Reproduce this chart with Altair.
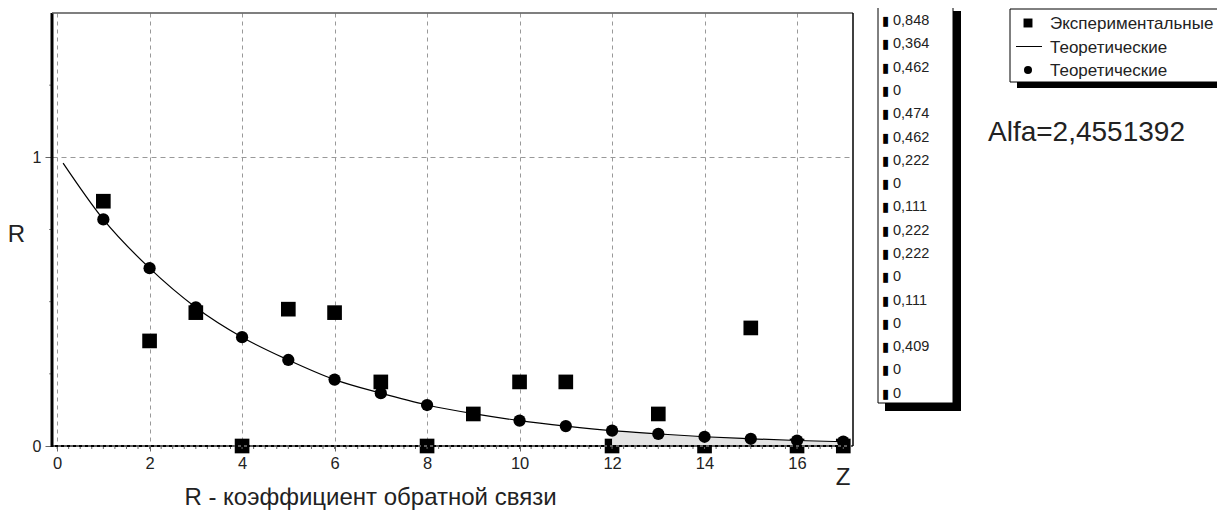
import altair as alt
import pandas as pd

# ---------------- data ----------------
z_exp = list(range(1, 18))
r_exp = [0.848, 0.364, 0.462, 0, 0.474, 0.462, 0.222, 0, 0.111, 0.222,
         0.222, 0, 0.111, 0, 0.409, 0, 0]

z_theo = list(range(1, 18))
r_theo = [0.785, 0.616, 0.480, 0.377, 0.298, 0.230, 0.183, 0.142, 0.112,
          0.088, 0.069, 0.053, 0.042, 0.032, 0.025, 0.019, 0.015]

line_z = [0.13] + z_theo
line_r = [0.98] + r_theo

shade_from = 12

list_labels = [str(v).replace(".", ",") for v in r_exp]
legend_labels = ["Экспериментальные", "Теоретические", "Теоретические"]
alfa_text = "Alfa=2,4551392"
x_title = "R - коэффициент обратной связи"
y_title = "R"
z_label = "Z"
x_tick_values = [0, 2, 4, 6, 8, 10, 12, 14, 16]
y_tick_values = [0, 1]
x_minor = [i / 4 for i in range(0, 69)]
y_minor = [0.25, 0.5, 0.75, 1.25]

# ---------------- layout ----------------
W, H = 801, 433
FONT = "Liberation Sans"

exp_df = pd.DataFrame({"z": z_exp, "r": r_exp})
theo_df = pd.DataFrame({"z": z_theo, "r": r_theo})
line_df = pd.DataFrame({"z": line_z, "r": line_r})
shade_df = theo_df[theo_df.z >= shade_from]
one = pd.DataFrame({"a": [0]})

xs = alt.Scale(domain=[-0.11, 17.21], nice=False, zero=False)
ys = alt.Scale(domain=[0, 1.5], nice=False)

X = alt.X("z:Q", scale=xs, axis=alt.Axis(
    values=x_tick_values, title=x_title, titleFontSize=24, titleFont=FONT,
    titleFontWeight="normal", titleColor="#222", titleX=318, titleY=51,
    titleBaseline="middle", labelFontSize=16.5, labelFont=FONT, labelColor="#222",
    tickSize=5, tickColor="#666", labelPadding=4, domain=False,
    grid=True, gridDash=[4, 4], gridColor="#999", gridWidth=1))
Y = alt.Y("r:Q", scale=ys, axis=alt.Axis(
    values=y_tick_values, title=y_title, titleFontSize=24, titleFont=FONT,
    titleFontWeight="normal", titleColor="#222", titleAngle=0, titleX=-36,
    titleY=221, titleAlign="center", titleBaseline="middle",
    labelFontSize=16, labelFont=FONT, labelColor="#222", tickSize=7,
    tickColor="#666", labelPadding=4, domain=False,
    grid=True, gridDash=[5, 4], gridColor="#999", gridWidth=1))

shade = alt.Chart(shade_df).mark_area(color="#e4e4e4").encode(x=X, y=Y)

squares = alt.Chart(exp_df).mark_square(size=215, color="black", opacity=1).encode(x=X, y=Y)

line = alt.Chart(line_df).mark_line(color="black", strokeWidth=1.2,
                                    interpolate="monotone").encode(x=X, y=Y)

circles = alt.Chart(theo_df).mark_circle(size=150, color="black", opacity=1).encode(x=X, y=Y)

# minor ticks
xminor = alt.Chart(pd.DataFrame({"z": x_minor})).mark_rule(color="#666").encode(
    x=X, y=alt.value(H), y2=alt.value(H + 3))
yminor = alt.Chart(pd.DataFrame({"r": y_minor})).mark_rule(color="#888").encode(
    y=Y, x=alt.value(-3), x2=alt.value(0))

# frame
frame_left = alt.Chart(one).mark_rule(color="black", strokeWidth=3).encode(
    x=alt.value(0), y=alt.value(0), y2=alt.value(H + 1))
frame_bottom = alt.Chart(one).mark_rule(color="black", strokeWidth=2).encode(
    x=alt.value(0), x2=alt.value(W), y=alt.value(H))
frame_bottom_dash = alt.Chart(one).mark_rule(color="#bbb", strokeWidth=1, strokeDash=[3, 3]).encode(
    x=alt.value(0), x2=alt.value(W), y=alt.value(H))
frame_top = alt.Chart(one).mark_rule(color="#555", strokeWidth=1.5).encode(
    x=alt.value(0), x2=alt.value(W), y=alt.value(0))
frame_right = alt.Chart(one).mark_rule(color="black", strokeWidth=1.5).encode(
    x=alt.value(W), y=alt.value(0), y2=alt.value(H))

z_text = alt.Chart(one).mark_text(text=z_label, fontSize=24, font=FONT, color="#222",
                                  baseline="middle", align="center").encode(
    x=alt.value(791), y=alt.value(465))

# values list box
box1_shadow = alt.Chart(one).mark_rect(color="black").encode(
    x=alt.value(833), x2=alt.value(909), y=alt.value(-2), y2=alt.value(398))
box1 = alt.Chart(one).mark_rect(fill="white", stroke="black", strokeWidth=1).encode(
    x=alt.value(826), x2=alt.value(901), y=alt.value(-9), y2=alt.value(390))
list_text = alt.Chart(one).mark_text(
    text=list_labels, lineHeight=23.3, fontSize=14.5, font=FONT, color="#222",
    align="left", baseline="alphabetic").encode(x=alt.value(841), y=alt.value(12))
list_marks = alt.Chart(one).mark_text(
    text=["▮"] * len(list_labels), lineHeight=23.3, fontSize=13, font="DejaVu Sans",
    color="black", align="left", baseline="alphabetic").encode(x=alt.value(830), y=alt.value(12))

# series legend box
box2_shadow = alt.Chart(one).mark_rect(color="black").encode(
    x=alt.value(965), x2=alt.value(1195), y=alt.value(3), y2=alt.value(75))
box2 = alt.Chart(one).mark_rect(fill="white", stroke="black", strokeWidth=1).encode(
    x=alt.value(958), x2=alt.value(1190), y=alt.value(-4), y2=alt.value(69))
leg_text = alt.Chart(one).mark_text(
    text=legend_labels, lineHeight=23.5, fontSize=17, font=FONT, color="#222",
    align="left", baseline="alphabetic").encode(x=alt.value(998), y=alt.value(16))
leg_sq = alt.Chart(one).mark_square(size=80, color="black", opacity=1).encode(
    x=alt.value(976), y=alt.value(10))
leg_line = alt.Chart(one).mark_rule(color="black", strokeWidth=1).encode(
    x=alt.value(964), x2=alt.value(990), y=alt.value(33.5))
leg_circ = alt.Chart(one).mark_circle(size=65, color="black", opacity=1).encode(
    x=alt.value(976), y=alt.value(57))

alfa = alt.Chart(one).mark_text(text=alfa_text, fontSize=28, font=FONT, color="#222",
                                align="left", baseline="middle").encode(
    x=alt.value(936), y=alt.value(120))

chart = alt.layer(
    squares, shade, line, circles, xminor, yminor,
    frame_bottom, frame_bottom_dash, frame_left, frame_top, frame_right, z_text,
    box1_shadow, box1, list_marks, list_text,
    box2_shadow, box2, leg_sq, leg_line, leg_circ, leg_text, alfa,
).properties(
    width=W, height=H,
    padding={"left": 44, "top": 5, "right": 364, "bottom": 64},
    autosize=alt.AutoSizeParams(type="none"),
    background="white",
).configure_view(stroke=None)

chart.save("out.html", embed_options={"renderer": "svg", "actions": False})
